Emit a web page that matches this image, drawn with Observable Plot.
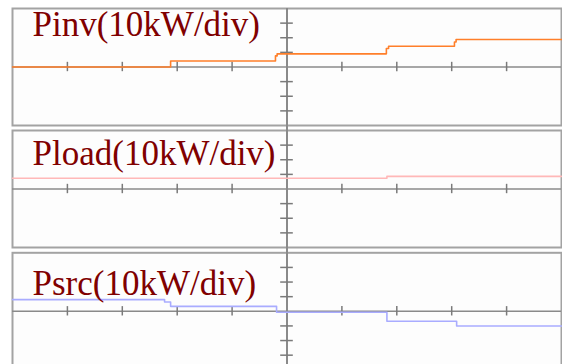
<!DOCTYPE html>
<html>
<head>
<meta charset="utf-8">
<script src="https://cdn.jsdelivr.net/npm/d3@7"></script>
<script src="https://cdn.jsdelivr.net/npm/@observablehq/plot@0.6"></script>
<style>
  html, body { margin: 0; padding: 0; background: #ffffff; overflow: hidden; }
  #chart { width: 562px; height: 364px; overflow: hidden; position: relative; }
  #chart svg { display: block; position: absolute; left: 0; overflow: visible; }
</style>
</head>
<body>
<div id="chart"></div>
<script>
// Time in divisions (0..10), power in kW (10 kW/div)
const titles = ["Pinv(10kW/div)", "Pload(10kW/div)", "Psrc(10kW/div)"];

const pinvT = [0, 2.88, 4.79, 4.82, 6.81, 6.85, 8.05, 8.08, 10];
const pinvV = [0, 4.1, 7.6, 9.0, 12.6, 14.2, 17.1, 18.8, 18.8];

const ploadT = [0, 6.82, 10];
const ploadV = [7.3, 8.6, 8.6];

const psrcT = [0, 2.77, 2.88, 4.81, 6.82, 8.09, 10];
const psrcV = [8.0, 6.4, 3.4, -0.7, -6.8, -10.1, -10.1];

const xTicks = [1, 2, 3, 4, 6, 7, 8, 9];     // divisions on time axis
const yTicks = [-30, -20, -10, 10, 20, 30];  // kW on center axis
const xCenter = [5];

const colors = ["#ff7f2a", "#ffb8b8", "#a9acff"];

function toRows(t, v) { return t.map((d, i) => ({t: d, p: v[i]})); }
const series = [toRows(pinvT, pinvV), toRows(ploadT, ploadV), toRows(psrcT, psrcV)];

// layout of the three panels
const panels = [
  {top: 0,   height: 129, mt: 8,   mb: 4,   titleDy: 27, ruleTop: 40},
  {top: 129, height: 122, mt: 1,   mb: 4,   titleDy: 34, ruleTop: 45},
  {top: 251, height: 122, mt: 1.3, mb: 3.7, titleDy: 42, ruleTop: 45}
];

const root = document.getElementById("chart");
panels.forEach((pn, i) => {
  const svg = Plot.plot({
    width: 562,
    height: pn.height,
    marginLeft: 12,
    marginRight: 1,
    marginTop: pn.mt,
    marginBottom: pn.mb,
    x: {domain: [0, 10], axis: null},
    y: {domain: [-40, 40], axis: null},
    style: {background: "transparent"},
    marks: [
      Plot.frame({fill: "#fdfdfd", stroke: "#a3a3a3", strokeWidth: 2}),
      Plot.ruleY([0], {stroke: "#8a8a8a", strokeWidth: 1.6}),
      Plot.ruleX(xCenter, {y1: -46, y2: pn.ruleTop, stroke: "#8a8a8a", strokeWidth: 2}),
      Plot.ruleX(xTicks, {x: d => d, y1: -3.2, y2: 3.2, stroke: "#7a7a7a", strokeWidth: 1.5}),
      Plot.ruleY(yTicks, {y: d => d, x1: 4.885, x2: 5.115, stroke: "#7a7a7a", strokeWidth: 1.5}),
      Plot.line(series[i], {x: "t", y: "p", curve: "step-after", stroke: colors[i], strokeWidth: 1.6}),
      Plot.text([titles[i]], {
        frameAnchor: "top-left", dx: 20, dy: pn.titleDy,
        text: d => d, textAnchor: "start", lineAnchor: "bottom",
        fill: "#800000", fontSize: 35, fontFamily: "Liberation Serif, 'Times New Roman', serif"
      })
    ]
  });
  svg.style.top = pn.top + "px";
  root.appendChild(svg);
});
</script>
</body>
</html>
